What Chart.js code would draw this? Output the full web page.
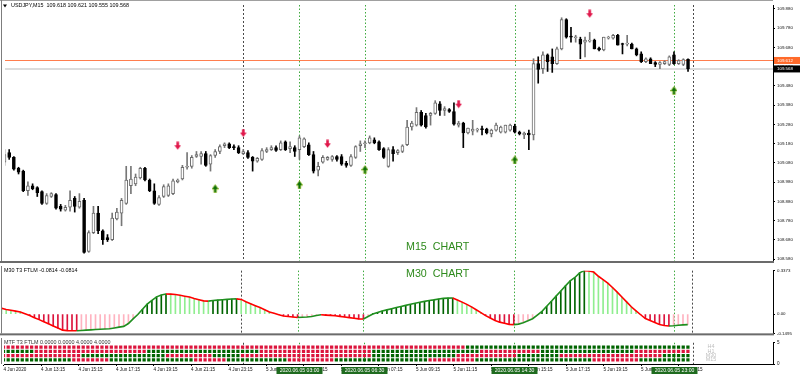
<!DOCTYPE html>
<html>
<head>
<meta charset="utf-8">
<title>USDJPY M15</title>
<script src="https://cdn.jsdelivr.net/npm/chart.js@4.4.1/dist/chart.umd.min.js"></script>
<style>
  html, body { margin: 0; padding: 0; background: #fff; }
  #wrap { position: relative; width: 800px; height: 377px; overflow: hidden; background: #fff; }
  #wrap canvas { position: absolute; left: 0; }
</style>
</head>
<body>
<div id="wrap">
  <canvas id="mainChart" width="800" height="266" style="top:0"></canvas>
  <canvas id="ftlmChart" width="800" height="72" style="top:266px"></canvas>
  <canvas id="mtfChart" width="800" height="39" style="top:338px"></canvas>
</div>
<script>
// ---- candles, USDJPY M15, bar 0 = 4 Jun 11:15 ----
const opens = [109.083,109.133,109.108,109.052,109.037,108.935,108.961,108.951,108.930,108.869,
  108.905,108.915,108.854,108.834,108.849,108.895,108.849,108.885,108.620,108.717,
  108.819,108.727,108.692,108.681,108.788,108.819,108.869,108.961,108.971,109.001,
  109.052,108.991,108.935,108.864,108.905,108.910,108.920,108.981,108.996,109.057,
  109.062,109.113,109.113,109.128,109.073,109.118,109.139,109.169,109.179,109.164,
  109.159,109.128,109.133,109.108,109.088,109.098,109.139,109.149,109.159,109.149,
  109.189,109.154,109.159,109.149,109.164,109.174,109.123,109.042,109.083,109.098,
  109.098,109.113,109.113,109.078,109.067,109.108,109.169,109.179,109.184,109.199,
  109.189,109.154,109.062,109.149,109.133,109.139,109.174,109.266,109.276,109.342,
  109.326,109.326,109.337,109.387,109.352,109.357,109.347,109.276,109.286,109.235,
  109.245,109.250,109.255,109.255,109.230,109.250,109.240,109.240,109.250,109.271,
  109.240,109.225,109.235,109.225,109.596,109.570,109.641,109.631,109.596,109.672,
  109.824,109.738,109.730,109.723,109.707,109.712,109.718,109.677,109.667,109.728,
  109.728,109.743,109.697,109.697,109.697,109.672,109.646,109.606,109.621,109.601,
  109.591,109.596,109.591,109.641,109.596,109.591,109.618];
const highs = [109.149,109.149,109.113,109.057,109.042,108.981,108.971,108.956,108.935,108.920,
  108.925,108.920,108.864,108.859,108.935,108.905,108.920,108.895,108.727,108.854,
  108.854,108.732,108.707,108.819,108.844,108.895,109.062,109.062,109.022,109.057,
  109.057,108.996,108.971,108.910,108.966,108.971,108.996,108.996,109.067,109.133,
  109.118,109.139,109.139,109.139,109.123,109.149,109.174,109.184,109.184,109.174,
  109.169,109.149,109.144,109.113,109.108,109.154,109.159,109.169,109.169,109.194,
  109.194,109.189,109.169,109.220,109.210,109.184,109.139,109.083,109.118,109.113,
  109.118,109.118,109.123,109.088,109.123,109.169,109.194,109.194,109.220,109.210,
  109.194,109.159,109.159,109.164,109.149,109.174,109.301,109.296,109.367,109.352,
  109.337,109.342,109.403,109.398,109.372,109.362,109.392,109.296,109.291,109.260,
  109.301,109.260,109.271,109.260,109.255,109.286,109.271,109.276,109.281,109.281,
  109.245,109.240,109.250,109.621,109.631,109.657,109.646,109.672,109.682,109.834,
  109.829,109.784,109.743,109.733,109.733,109.758,109.723,109.682,109.733,109.738,
  109.748,109.748,109.702,109.743,109.702,109.677,109.657,109.626,109.626,109.606,
  109.606,109.611,109.636,109.657,109.616,109.621,109.621];
const lows = [109.067,109.098,109.042,109.022,108.930,108.910,108.940,108.905,108.864,108.864,
  108.900,108.839,108.829,108.829,108.829,108.824,108.844,108.610,108.615,108.712,
  108.712,108.656,108.671,108.676,108.783,108.753,108.864,108.920,108.961,108.996,
  108.986,108.930,108.864,108.859,108.900,108.905,108.915,108.976,108.991,109.047,
  109.052,109.108,109.073,109.062,109.037,109.108,109.128,109.159,109.154,109.149,
  109.128,109.123,109.103,109.037,109.083,109.093,109.133,109.144,109.139,109.144,
  109.144,109.133,109.113,109.098,109.159,109.118,109.027,109.012,109.078,109.093,
  109.088,109.088,109.067,109.057,109.062,109.103,109.139,109.159,109.179,109.179,
  109.144,109.103,109.057,109.088,109.123,109.133,109.169,109.250,109.271,109.271,
  109.260,109.276,109.332,109.326,109.326,109.342,109.276,109.266,109.159,109.230,
  109.225,109.240,109.225,109.230,109.215,109.245,109.235,109.235,109.245,109.235,
  109.225,109.205,109.149,109.199,109.494,109.545,109.555,109.550,109.591,109.667,
  109.728,109.707,109.707,109.621,109.631,109.707,109.672,109.662,109.662,109.723,
  109.723,109.692,109.646,109.687,109.672,109.636,109.601,109.601,109.596,109.580,
  109.570,109.591,109.585,109.591,109.591,109.585,109.555];
const closes = [109.123,109.108,109.047,109.032,108.935,108.961,108.946,108.925,108.869,108.910,
  108.920,108.844,108.839,108.849,108.885,108.854,108.880,108.615,108.717,108.819,
  108.727,108.681,108.681,108.793,108.824,108.885,108.991,108.996,109.006,109.052,
  108.991,108.935,108.869,108.900,108.956,108.961,108.986,108.991,109.057,109.062,
  109.108,109.123,109.128,109.067,109.118,109.139,109.164,109.179,109.159,109.159,
  109.133,109.139,109.108,109.088,109.103,109.144,109.149,109.159,109.144,109.184,
  109.149,109.164,109.139,109.210,109.205,109.123,109.037,109.062,109.108,109.108,
  109.113,109.098,109.073,109.067,109.113,109.164,109.179,109.184,109.210,109.184,
  109.149,109.108,109.149,109.128,109.144,109.169,109.266,109.286,109.342,109.276,
  109.266,109.337,109.392,109.352,109.362,109.347,109.281,109.286,109.235,109.260,
  109.255,109.255,109.253,109.235,109.250,109.276,109.266,109.276,109.276,109.240,
  109.230,109.235,109.225,109.596,109.565,109.641,109.606,109.596,109.672,109.824,
  109.733,109.733,109.733,109.697,109.718,109.718,109.672,109.667,109.733,109.733,
  109.743,109.692,109.695,109.702,109.672,109.641,109.606,109.621,109.596,109.591,
  109.601,109.606,109.631,109.596,109.611,109.616,109.568];

// signal arrows
const sellArrowBars = [37, 51, 69, 97, 125];
const sellArrowPrices = [109.169, 109.235, 109.179, 109.385, 109.855];
const buyArrowBars = [45, 63, 77, 109, 143];
const buyArrowPrices = [108.946, 108.966, 109.045, 109.095, 109.456];

// horizontal levels
const alertLevel = 109.612;
const bidPrice = 109.568;

// vertical lines
const signalLineBars = [63, 77, 109, 143];
const signalLineLabels = ['2020.06.05 03:00', '2020.06.05 06:30', '2020.06.05 14:30', '2020.06.05 23:00'];
const daySeparatorBars = [51, 147];

// axes
const priceTicks = [108.58, 108.68, 108.78, 108.88, 108.98, 109.08, 109.18, 109.28, 109.38, 109.48, 109.58, 109.68, 109.78, 109.88];
const timeTickBars = [0, 8, 16, 24, 32, 40, 48, 56, 64, 72, 80, 88, 96, 104, 112, 120, 128, 136, 144];
const timeTickLabels = ['4 Jun 2020', '4 Jun 13:15', '4 Jun 15:15', '4 Jun 17:15', '4 Jun 19:15', '4 Jun 21:15',
  '4 Jun 23:15', '5 Jun 01:15', '5 Jun 03:15', '5 Jun 05:15', '5 Jun 07:15', '5 Jun 09:15', '5 Jun 11:15',
  '5 Jun 13:15', '5 Jun 15:15', '5 Jun 17:15', '5 Jun 19:15', '5 Jun 21:15', '5 Jun 23:15'];

// M30 T3 FTLM, one value per M15 bar
const ftlmValues = [0.0451,0.0363,0.0298,0.0233,0.0167,0.0029,-0.0116,-0.0276,-0.0429,-0.0596,
  -0.0756,-0.0923,-0.1083,-0.1243,-0.1279,-0.1294,-0.1294,-0.1272,-0.1243,-0.1221,
  -0.1199,-0.1177,-0.1155,-0.1134,-0.1076,-0.1010,-0.0952,-0.0734,-0.0371,-0.0029,
  0.0371,0.0770,0.1061,0.1337,0.1482,0.1555,0.1548,0.1526,0.1461,0.1388,
  0.1323,0.1214,0.1119,0.1025,0.1010,0.1054,0.1083,0.1112,0.1141,0.1170,
  0.1178,0.1140,0.0952,0.0807,0.0654,0.0509,0.0342,0.0167,0.0058,-0.0044,
  -0.0145,-0.0189,-0.0225,-0.0262,-0.0240,-0.0225,-0.0189,-0.0102,-0.0051,-0.0080,
  -0.0102,-0.0124,-0.0174,-0.0225,-0.0276,-0.0320,-0.0371,-0.0378,-0.0189,0.0007,
  0.0131,0.0233,0.0327,0.0422,0.0509,0.0589,0.0676,0.0763,0.0843,0.0916,
  0.0988,0.1054,0.1105,0.1170,0.1221,0.1243,0.1250,0.1097,0.0930,0.0756,
  0.0560,0.0334,0.0109,-0.0116,-0.0305,-0.0494,-0.0625,-0.0712,-0.0799,-0.0814,
  -0.0778,-0.0669,-0.0523,-0.0356,-0.0087,0.0211,0.0603,0.0996,0.1395,0.1788,
  0.2188,0.2587,0.2842,0.3200,0.3373,0.3350,0.3260,0.2936,0.2682,0.2406,
  0.2064,0.1708,0.1330,0.0952,0.0567,0.0254,-0.0051,-0.0342,-0.0501,-0.0654,
  -0.0807,-0.0880,-0.0920,-0.0900,-0.0870,-0.0840,-0.0814];
const ftlmTicks = [-0.1495, 0, 0.3373];

// MTF state rows: [fromBar, toBar, state]
const mtfRowNames = ['H4', 'H1', 'M30', 'M15'];
const mtfRowLevels = [4, 3, 2, 1];
const mtfH4Runs = [[0, 98, 'dn'], [99, 146, 'up']];
const mtfH1Runs = [[0, 6, 'up'], [7, 30, 'dn'], [31, 54, 'up'], [55, 78, 'dn'], [79, 101, 'up'], [102, 114, 'dn'], [115, 134, 'up'], [135, 146, 'dn']];
const mtfM30Runs = [[0, 16, 'dn'], [17, 34, 'up'], [35, 44, 'dn'], [45, 50, 'up'], [51, 78, 'dn'], [79, 96, 'up'], [97, 109, 'dn'], [110, 118, 'up'], [119, 140, 'dn'], [141, 146, 'up']];
const mtfM15Runs = [[0, 14, 'up'], [15, 22, 'dn'], [23, 40, 'up'], [41, 47, 'dn'], [48, 60, 'up'], [61, 70, 'dn'], [71, 90, 'up'], [91, 100, 'dn'], [101, 125, 'up'], [126, 135, 'dn'], [136, 146, 'up']];

// ---- view ----
const FONT = "'Liberation Sans', Arial, sans-serif";
const VIEW_MIN = 0.106, VIEW_MAX = 164.15;
const AXIS_W = 27;

const barIndex = opens.map((_, i) => i);
const isUp = barIndex.map(i => closes[i] >= opens[i]);

function arrowImage(fill, edge, down) {
  const c = document.createElement('canvas');
  c.width = 7; c.height = 9;
  const g = c.getContext('2d');
  if (!down) { g.translate(0, 9); g.scale(1, -1); }
  g.beginPath();
  g.moveTo(2.2, 0.5); g.lineTo(4.8, 0.5); g.lineTo(4.8, 4); g.lineTo(6.8, 4);
  g.lineTo(3.5, 8.5); g.lineTo(0.2, 4); g.lineTo(2.2, 4); g.closePath();
  g.fillStyle = fill; g.fill();
  if (edge) { g.strokeStyle = edge; g.lineWidth = 0.7; g.stroke(); }
  return c;
}
const sellImg = arrowImage('#e0174a', null, true);
const buyImg = arrowImage('#0b6e0b', '#9bbf2a', false);

function xAxis(display) {
  return { type: 'linear', min: VIEW_MIN, max: VIEW_MAX, offset: false, display: display };
}

function drawVLines(chart) {
  const { ctx, chartArea: a, scales: { x } } = chart;
  ctx.save();
  ctx.lineWidth = 1;
  ctx.setLineDash([1.5, 2]);
  ctx.strokeStyle = '#3faa3f';
  signalLineBars.forEach(b => {
    const px = Math.round(x.getPixelForValue(b)) + 0.5;
    ctx.beginPath(); ctx.moveTo(px, a.top); ctx.lineTo(px, a.bottom); ctx.stroke();
  });
  ctx.strokeStyle = '#4a4a4a';
  ctx.setLineDash([2, 2]);
  daySeparatorBars.forEach(b => {
    const px = Math.round(x.getPixelForValue(b)) + 0.5;
    ctx.beginPath(); ctx.moveTo(px, a.top); ctx.lineTo(px, a.bottom); ctx.stroke();
  });
  ctx.restore();
}

function drawLeftEdge(chart, y0, y1) {
  const ctx = chart.ctx;
  ctx.save();
  ctx.fillStyle = '#7d7d7d';
  ctx.fillRect(1, y0, 1, y1 - y0);
  ctx.restore();
}

function rightAxis(extra) {
  return Object.assign({
    position: 'right',
    afterFit: s => { s.width = AXIS_W; },
    ticks: { autoSkip: false, color: '#111', padding: 2, font: { family: FONT, size: 4.4 } },
    grid: { drawOnChartArea: false, drawTicks: true, tickLength: 2, color: '#000' },
    border: { display: true, color: '#000', width: 1 }
  }, extra);
}

const baseOptions = {
  responsive: false,
  animation: false,
  events: [],
  plugins: { legend: { display: false }, tooltip: { enabled: false } }
};

// ---- main price chart ----
const mainDecor = {
  id: 'mainDecor',
  beforeDatasetsDraw(chart) {
    const { ctx, chartArea: a, scales: { y } } = chart;
    drawVLines(chart);
    ctx.save();
    let py = y.getPixelForValue(bidPrice);
    ctx.strokeStyle = '#dcdcdc'; ctx.lineWidth = 2;
    ctx.beginPath(); ctx.moveTo(a.left, py); ctx.lineTo(a.right, py); ctx.stroke();
    py = Math.round(y.getPixelForValue(alertLevel)) + 0.5;
    ctx.strokeStyle = '#ff7d4d'; ctx.lineWidth = 1;
    ctx.beginPath(); ctx.moveTo(a.left, py); ctx.lineTo(a.right, py); ctx.stroke();
    ctx.restore();
  },
  afterDraw(chart) {
    const { ctx, chartArea: a, scales: { y } } = chart;
    ctx.save();
    // frame
    ctx.fillStyle = '#a0a0a0'; ctx.fillRect(0, 0, a.right, 1);
    drawLeftEdge(chart, 0, a.bottom);
    ctx.fillStyle = '#6b6b6b'; ctx.fillRect(0, a.bottom, a.right + 1, 2);
    // title
    ctx.fillStyle = '#000';
    ctx.beginPath(); ctx.moveTo(3, 4.5); ctx.lineTo(7, 4.5); ctx.lineTo(5, 7.5); ctx.closePath(); ctx.fill();
    ctx.font = '5.4px ' + FONT; ctx.textBaseline = 'middle'; ctx.textAlign = 'left';
    ctx.fillText('USDJPY,M15  109.618 109.621 109.555 109.568', 11, 6);
    // chart caption
    ctx.fillStyle = '#2e8a1c'; ctx.font = '10.7px ' + FONT; ctx.textBaseline = 'alphabetic';
    ctx.fillText('M15  CHART', 406, 249.5);
    // price boxes on the axis
    [[alertLevel, '#ff6a2a'], [bidPrice, '#000000']].forEach(([p, col]) => {
      const py = y.getPixelForValue(p);
      ctx.fillStyle = col; ctx.fillRect(a.right + 1, py - 3.5, 800 - a.right, 7);
      ctx.fillStyle = '#fff'; ctx.font = '4.4px ' + FONT; ctx.textBaseline = 'middle';
      ctx.fillText(p.toFixed(3), a.right + 4, py + 0.3);
    });
    ctx.restore();
  }
};

new Chart(document.getElementById('mainChart'), {
  type: 'bar',
  data: {
    datasets: [
      {
        type: 'scatter', order: -1,
        data: sellArrowBars.map((b, k) => ({ x: b, y: sellArrowPrices[k] })),
        pointStyle: sellImg, pointRadius: 4
      },
      {
        type: 'scatter', order: -1,
        data: buyArrowBars.map((b, k) => ({ x: b, y: buyArrowPrices[k] })),
        pointStyle: buyImg, pointRadius: 4
      },
      {
        order: 0, grouped: false, barThickness: 3, minBarLength: 1,
        data: barIndex.map(i => ({ x: i, y: [opens[i], closes[i]] })),
        backgroundColor: isUp.map(u => u ? '#ffffff' : '#000000'),
        borderColor: isUp.map(u => u ? '#6a6a6a' : '#000000'),
        borderWidth: 1, borderSkipped: false
      },
      {
        order: 1, grouped: false, barThickness: 1,
        data: barIndex.map(i => ({ x: i, y: [lows[i], highs[i]] })),
        backgroundColor: isUp.map(u => u ? '#777777' : '#000000')
      }
    ]
  },
  options: Object.assign({}, baseOptions, {
    layout: { padding: { left: 2, top: 2, bottom: 2, right: 0 } },
    scales: {
      x: xAxis(false),
      y: rightAxis({
        min: 108.5698, max: 109.9003,
        afterBuildTicks: s => { s.ticks = priceTicks.map(v => ({ value: v })); },
        ticks: { autoSkip: false, color: '#111', padding: 2, font: { family: FONT, size: 4.4 }, callback: v => Number(v).toFixed(3) }
      })
    }
  }),
  plugins: [mainDecor]
});

// ---- M30 T3 FTLM ----
const histColors = ftlmValues.map((v, i) => {
  const rising = i > 0 && v > ftlmValues[i - 1];
  if (v >= 0) return rising ? '#006400' : '#90ee90';
  return rising ? '#ffb3c0' : '#dc143c';
});

const ftlmDecor = {
  id: 'ftlmDecor',
  beforeDatasetsDraw(chart) { drawVLines(chart); },
  afterDraw(chart) {
    const { ctx, chartArea: a } = chart;
    ctx.save();
    drawLeftEdge(chart, 0, a.bottom);
    ctx.fillStyle = '#6b6b6b'; ctx.fillRect(0, a.bottom, a.right + 1, 2);
    ctx.fillStyle = '#000'; ctx.font = '5.4px ' + FONT; ctx.textBaseline = 'middle'; ctx.textAlign = 'left';
    ctx.fillText('M30 T3 FTLM -0.0814 -0.0814', 4, 4.5);
    ctx.fillStyle = '#2e8a1c'; ctx.font = '10.7px ' + FONT; ctx.textBaseline = 'alphabetic';
    ctx.fillText('M30  CHART', 406, 11);
    ctx.restore();
  }
};

new Chart(document.getElementById('ftlmChart'), {
  type: 'bar',
  data: {
    datasets: [
      {
        type: 'line', order: 0,
        data: barIndex.map(i => ({ x: i, y: ftlmValues[i] })),
        borderWidth: 1.6, pointRadius: 0, tension: 0,
        borderColor: '#ff0000',
        segment: { borderColor: c => c.p1.parsed.y > c.p0.parsed.y ? '#1f8f1f' : '#ff0000' }
      },
      {
        order: 1, grouped: false, barThickness: 1,
        data: barIndex.map(i => ({ x: i, y: ftlmValues[i] })),
        backgroundColor: histColors
      }
    ]
  },
  options: Object.assign({}, baseOptions, {
    layout: { padding: { left: 2, top: 3, bottom: 2, right: 0 } },
    scales: {
      x: xAxis(false),
      y: rightAxis({
        min: -0.1495, max: 0.3373,
        afterBuildTicks: s => { s.ticks = ftlmTicks.map(v => ({ value: v })); },
        ticks: { autoSkip: false, color: '#111', padding: 2, font: { family: FONT, size: 4.4 },
          callback: v => (Math.abs(v) < 1e-9 ? '0.00' : Number(v).toFixed(4)) }
      })
    }
  }),
  plugins: [ftlmDecor]
});

// ---- MTF dots + time axis ----
const mtfRuns = [mtfH4Runs, mtfH1Runs, mtfM30Runs, mtfM15Runs];
const mtfCells = mtfRuns.map(runs => {
  const cells = [];
  runs.forEach(([from, to, state]) => {
    for (let b = from; b <= to; b++) cells.push({ bar: b, up: state === 'up' });
  });
  return cells;
});

const mtfDecor = {
  id: 'mtfDecor',
  beforeDatasetsDraw(chart) {
    const { ctx } = chart;
    drawVLines(chart);
    ctx.save();
    ctx.fillStyle = '#333'; ctx.font = '5.4px ' + FONT; ctx.textBaseline = 'middle'; ctx.textAlign = 'left';
    ctx.fillText('MTF T3 FTLM 0.0000 0.0000 4.0000 4.0000', 4, 4.5);
    ctx.restore();
  },
  afterDraw(chart) {
    const { ctx, chartArea: a, scales: { x, y } } = chart;
    ctx.save();
    drawLeftEdge(chart, 0, a.bottom);
    // row names
    ctx.fillStyle = '#bdbdbd'; ctx.font = '5.4px ' + FONT; ctx.textAlign = 'center'; ctx.textBaseline = 'middle';
    mtfRowNames.forEach((n, r) => ctx.fillText(n, 711, y.getPixelForValue(mtfRowLevels[r])));
    // vertical line time boxes
    ctx.font = '5.1px ' + FONT;
    signalLineBars.forEach((b, k) => {
      const px = Math.round(x.getPixelForValue(b)) + 0.5;
      ctx.fillStyle = '#1f6b1f';
      ctx.fillRect(px - 23, a.bottom + 3, 46, 7);
      ctx.fillStyle = '#ffffff';
      ctx.fillText(signalLineLabels[k], px, a.bottom + 6.7);
    });
    ctx.restore();
  }
};

new Chart(document.getElementById('mtfChart'), {
  type: 'scatter',
  data: {
    datasets: mtfCells.map((cells, r) => ({
      data: cells.map(c => ({ x: c.bar, y: mtfRowLevels[r] })),
      pointStyle: 'rect',
      pointRadius: 2.3,
      pointBorderWidth: 0,
      pointBackgroundColor: cells.map(c => c.up ? '#006400' : '#dc143c')
    }))
  },
  options: Object.assign({}, baseOptions, {
    layout: { padding: { left: 2, top: 2, bottom: 0, right: 0 } },
    scales: {
      x: Object.assign(xAxis(true), {
        position: 'bottom',
        afterFit: s => { s.height = 13; },
        afterBuildTicks: s => { s.ticks = timeTickBars.map(v => ({ value: v })); },
        ticks: { autoSkip: false, maxRotation: 0, minRotation: 0, align: 'start', padding: 1,
          color: '#111', font: { family: FONT, size: 4.6 }, callback: (v, k) => timeTickLabels[k] },
        grid: { drawOnChartArea: false, drawTicks: true, tickLength: 2, color: '#000' },
        border: { display: true, color: '#000', width: 1 }
      }),
      y: rightAxis({
        min: 0, max: 5,
        afterBuildTicks: s => { s.ticks = [{ value: 0 }, { value: 5 }]; },
        ticks: { autoSkip: false, color: '#111', padding: 2, font: { family: FONT, size: 4.6 }, callback: v => String(v) }
      })
    }
  }),
  plugins: [mtfDecor]
});
</script>
</body>
</html>
